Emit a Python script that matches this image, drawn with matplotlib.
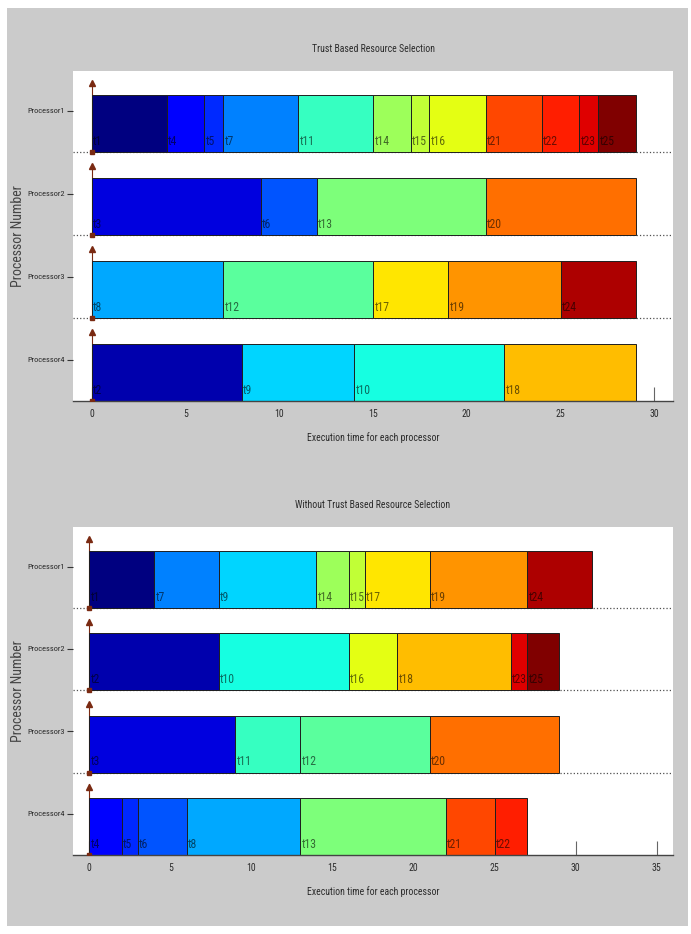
import numpy as np
import matplotlib.pyplot as plt
from matplotlib import font_manager
from matplotlib.patches import Rectangle

# === data: task number and duration of each segment, per processor ===
PROCESSORS = ["Processor1", "Processor2", "Processor3", "Processor4"]
N_TASKS = 25

# with trust based resource selection
TRUST_P1_TASKS = [1, 4, 5, 7, 11, 14, 15, 16, 21, 22, 23, 25]
TRUST_P1_DUR = [4, 2, 1, 4, 4, 2, 1, 3, 3, 2, 1, 2]
TRUST_P2_TASKS = [3, 6, 13, 20]
TRUST_P2_DUR = [9, 3, 9, 8]
TRUST_P3_TASKS = [8, 12, 17, 19, 24]
TRUST_P3_DUR = [7, 8, 4, 6, 4]
TRUST_P4_TASKS = [2, 9, 10, 18]
TRUST_P4_DUR = [8, 6, 8, 7]

# without trust based resource selection
PLAIN_P1_TASKS = [1, 7, 9, 14, 15, 17, 19, 24]
PLAIN_P1_DUR = [4, 4, 6, 2, 1, 4, 6, 4]
PLAIN_P2_TASKS = [2, 10, 16, 18, 23, 25]
PLAIN_P2_DUR = [8, 8, 3, 7, 1, 2]
PLAIN_P3_TASKS = [3, 11, 12, 20]
PLAIN_P3_DUR = [9, 4, 8, 8]
PLAIN_P4_TASKS = [4, 5, 6, 8, 13, 21, 22]
PLAIN_P4_DUR = [2, 1, 3, 7, 9, 3, 2]

TRUST_XTICKS = [0, 5, 10, 15, 20, 25, 30]
PLAIN_XTICKS = [0, 5, 10, 15, 20, 25, 30, 35]

# === styles ===
BAR_H = 0.69
ARROW_COLOR = "#7a2a12"
TEXT_COLOR = "#2b2b2b"


def pick_font():
    names = {f.name for f in font_manager.fontManager.ttflist}
    for cand in ["Liberation Sans Narrow", "DejaVu Sans Condensed",
                 "Roboto Condensed", "Open Sans Condensed"]:
        if cand in names:
            return cand, "normal"
    return "DejaVu Sans", "condensed"


FONT, STRETCH = pick_font()
plt.rcParams["font.family"] = [FONT, "DejaVu Sans"]
plt.rcParams["font.stretch"] = STRETCH


def draw_chart(ax, title, rows, xlim, xticks):
    for i, (tasks, durs) in enumerate(rows):
        y = len(rows) - 1 - i
        starts = np.concatenate([[0], np.cumsum(durs)[:-1]])
        colors = [plt.cm.jet((t - 1) / (N_TASKS - 1)) for t in tasks]
        ax.barh(y, durs, left=starts, height=BAR_H, align="edge",
                color=colors, edgecolor="#1e1e1e", linewidth=0.7, zorder=2)
        for t, s, c in zip(tasks, starts, colors):
            dark = tuple(np.array(c[:3]) * 0.42)
            ax.text(s + 0.08, y + 0.05, f"t{t}", color=dark, fontsize=8.5,
                    ha="left", va="bottom", zorder=4)
        if y > 0:
            ax.axhline(y, ls=":", color="#505050", lw=0.9, zorder=1.5)
        # little upward arrow at time 0
        ax.plot([0, 0], [y, y + BAR_H + 0.17], color=ARROW_COLOR, lw=0.8, zorder=1)
        ax.plot(0, y + BAR_H + 0.14, marker="^", ms=4.5, color=ARROW_COLOR,
                mec=ARROW_COLOR, zorder=3)
        ax.plot(0, y, marker="s", ms=2.5, color=ARROW_COLOR, zorder=3)

    ax.set_xlim(*xlim)
    ax.set_ylim(0, 3.98)
    ax.set_xticks(xticks)
    ax.set_yticks([3.5, 2.5, 1.5, 0.5])
    ax.set_yticklabels(PROCESSORS)
    ax.set_axisbelow(True)
    ax.tick_params(axis="x", direction="in", length=10, width=0.8, color="#666666",
                   labelsize=7, labelcolor=TEXT_COLOR, pad=6)
    ax.tick_params(axis="y", direction="out", length=4, width=0.8, color="#333333",
                   labelsize=6, labelcolor=TEXT_COLOR, pad=2)
    for side in ["left", "top", "right"]:
        ax.spines[side].set_visible(False)
    ax.spines["bottom"].set_color("#444444")
    ax.spines["bottom"].set_linewidth(1.0)
    ax.set_title(title, fontsize=7, color=TEXT_COLOR, pad=14)
    ax.set_xlabel("Execution time for each processor", fontsize=7,
                  color=TEXT_COLOR, labelpad=9)
    ax.set_ylabel("Processor Number", fontsize=10, color="#444444")
    ax.yaxis.set_label_coords(-0.08, 0.5)


fig = plt.figure(figsize=(6.91, 9.34), dpi=100)
fig.patch.set_facecolor("white")
fig.patches.append(Rectangle((7 / 691, 8 / 934), 681 / 691, 918 / 934,
                             transform=fig.transFigure, facecolor="#cbcbcb",
                             edgecolor="none", zorder=-10))

ax1 = fig.add_axes([73 / 691, 533 / 934, 600 / 691, 330 / 934])
ax2 = fig.add_axes([73 / 691, 79 / 934, 600 / 691, 328 / 934])

trust_rows = [(TRUST_P1_TASKS, TRUST_P1_DUR), (TRUST_P2_TASKS, TRUST_P2_DUR),
              (TRUST_P3_TASKS, TRUST_P3_DUR), (TRUST_P4_TASKS, TRUST_P4_DUR)]
plain_rows = [(PLAIN_P1_TASKS, PLAIN_P1_DUR), (PLAIN_P2_TASKS, PLAIN_P2_DUR),
              (PLAIN_P3_TASKS, PLAIN_P3_DUR), (PLAIN_P4_TASKS, PLAIN_P4_DUR)]

draw_chart(ax1, "Trust Based Resource Selection", trust_rows, (-1, 31), TRUST_XTICKS)
draw_chart(ax2, "Without Trust Based Resource Selection", plain_rows, (-1, 36), PLAIN_XTICKS)

fig.savefig("out.png", dpi=100, facecolor=fig.get_facecolor())
